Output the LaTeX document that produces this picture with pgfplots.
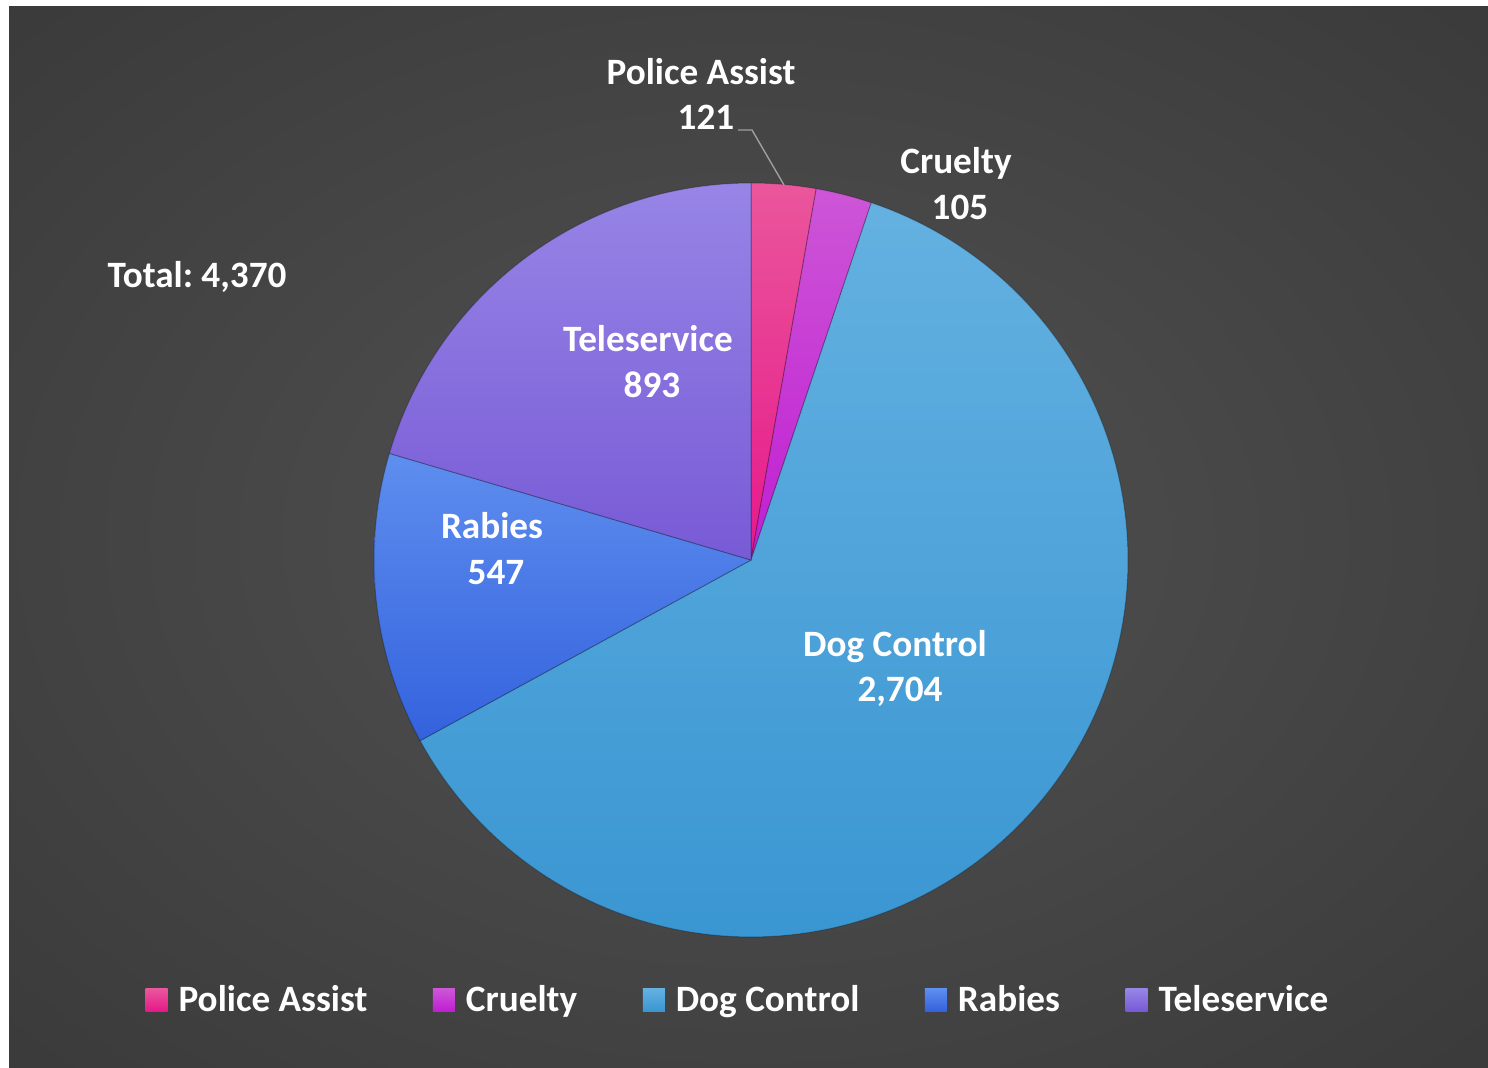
\documentclass[border=0pt]{standalone}
\usepackage{pgfplots}
\pgfplotsset{compat=1.18}
\usepackage{fontspec}
\setmainfont{Carlito}
\frenchspacing

\definecolor{bgin}{HTML}{4E4E4E}
\definecolor{bgout}{HTML}{222222}
\definecolor{polT}{HTML}{EA569C}
\definecolor{polB}{HTML}{E6198A}
\definecolor{cruT}{HTML}{CD56D7}
\definecolor{cruB}{HTML}{C01ED2}
\definecolor{dogT}{HTML}{64B1E1}
\definecolor{dogB}{HTML}{3A96D2}
\definecolor{rabT}{HTML}{5E8EEE}
\definecolor{rabB}{HTML}{3462DE}
\definecolor{telT}{HTML}{9785E6}
\definecolor{telB}{HTML}{785AD6}

\pgfdeclareradialshading{bgshade}{\pgfpointorigin}{color(0bp)=(bgin); color(6bp)=(bgin); color(72bp)=(bgout)}

% counts
\def\vPol{121}
\def\vCru{105}
\def\vDog{2704}
\def\vRab{547}
\def\vTel{893}
\pgfmathsetmacro\tot{\vPol+\vCru+\vDog+\vRab+\vTel}
\pgfmathsetmacro\aA{90-(\vPol/\tot)*360}
\pgfmathsetmacro\aB{\aA-(\vCru/\tot)*360}
\pgfmathsetmacro\aC{\aB-(\vDog/\tot)*360}
\pgfmathsetmacro\aD{\aC-(\vRab/\tot)*360}
\pgfmathsetmacro\aE{\aD+360}

\newcommand\lbl{\fontsize{18.6bp}{22bp}\selectfont\bfseries}

\begin{document}
\begin{tikzpicture}
\useasboundingbox (0,0) rectangle (744bp,534bp);
\fill[white] (0,0) rectangle (744bp,534bp);
\shade[shading=bgshade] (4.5bp,0) rectangle (744bp,530.5bp);
\begin{axis}[
  at={(0,0)}, anchor=south west,
  scale only axis, width=744bp, height=534bp,
  xmin=0, xmax=1488, ymin=0, ymax=1068,
  hide axis, clip=false,
  legend columns=5,
  legend style={at={(axis cs:739,68)}, anchor=center, draw=none, fill=none,
    text=white, font=\lbl, inner sep=0pt,
    /tikz/every odd column/.append style={column sep=3.5bp},
    /tikz/every even column/.append style={column sep=30.8bp}},
  legend image code/.code={\path[#1,draw=none] (0bp,-5.5bp) rectangle (11bp,5.5bp);},
  pie/.style={draw=black, draw opacity=0.25, line width=0.5bp},
]
\addplot[pie, top color=polT, bottom color=polB, domain=\aA:90, samples=20]
  ({751+377*cos(x)},{508+377*sin(x)}) -- (axis cs:751,508) -- cycle;
\addlegendentry{Police Assist}
\addplot[pie, top color=cruT, bottom color=cruB, domain=\aB:\aA, samples=20]
  ({751+377*cos(x)},{508+377*sin(x)}) -- (axis cs:751,508) -- cycle;
\addlegendentry{Cruelty}
\addplot[pie, top color=dogT, bottom color=dogB, domain=\aC:\aB, samples=150]
  ({751+377*cos(x)},{508+377*sin(x)}) -- (axis cs:751,508) -- cycle;
\addlegendentry{Dog Control}
\addplot[pie, top color=rabT, bottom color=rabB, domain=\aD:\aC, samples=40]
  ({751+377*cos(x)},{508+377*sin(x)}) -- (axis cs:751,508) -- cycle;
\addlegendentry{Rabies}
\addplot[pie, top color=telT, bottom color=telB, domain=90:\aE, samples=60]
  ({751+377*cos(x)},{508+377*sin(x)}) -- (axis cs:751,508) -- cycle;
\addlegendentry{Teleservice}

\draw[gray!75!white, line width=0.7bp] (axis cs:738,938) -- (axis cs:752,938) -- (axis cs:784,883);

\node[font=\lbl, text=white, anchor=base] at (axis cs:701,983) {Police Assist};
\node[font=\lbl, text=white, anchor=base] at (axis cs:706,938) {121};
\node[font=\lbl, text=white, anchor=base] at (axis cs:956,894) {Cruelty};
\node[font=\lbl, text=white, anchor=base] at (axis cs:960,848) {105};
\node[font=\lbl, text=white, anchor=base] at (axis cs:648,716) {Teleservice};
\node[font=\lbl, text=white, anchor=base] at (axis cs:652,670) {893};
\node[font=\lbl, text=white, anchor=base] at (axis cs:492,529) {Rabies};
\node[font=\lbl, text=white, anchor=base] at (axis cs:496,483) {547};
\node[font=\lbl, text=white, anchor=base] at (axis cs:895,411) {Dog Control};
\node[font=\lbl, text=white, anchor=base] at (axis cs:900,366) {2,704};
\node[font=\lbl, text=white, anchor=base] at (axis cs:197,780) {Total: 4,370};
\end{axis}
\end{tikzpicture}
\end{document}
